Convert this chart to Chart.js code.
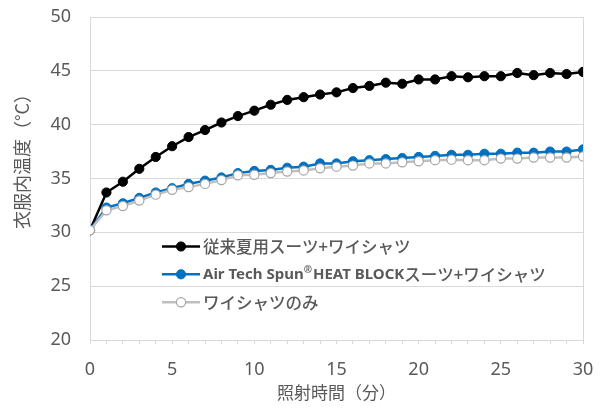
<!DOCTYPE html>
<html>
<head>
<meta charset="utf-8">
<script src="https://cdn.jsdelivr.net/npm/chart.js@4.4.1/dist/chart.umd.min.js"></script>
<style>
  html, body { margin: 0; padding: 0; background: #ffffff; }
  #wrap { width: 605px; height: 409px; }
</style>
</head>
<body>
<div id="wrap"><canvas id="c" width="605" height="409"></canvas></div>
<script>
// Irradiation time in minutes
const minutes = [0,1,2,3,4,5,6,7,8,9,10,11,12,13,14,15,16,17,18,19,20,21,22,23,24,25,26,27,28,29,30];

// Temperature inside clothing (°C)
const conventionalSuit = [30.2,33.7,34.7,35.9,37.0,38.0,38.85,39.5,40.2,40.8,41.3,41.85,42.3,42.55,42.8,43.0,43.4,43.6,43.9,43.8,44.2,44.2,44.5,44.4,44.5,44.5,44.8,44.6,44.8,44.7,44.9];
const airTechSuit      = [30.2,32.3,32.7,33.2,33.7,34.1,34.5,34.8,35.1,35.5,35.7,35.8,36.0,36.1,36.4,36.4,36.6,36.7,36.8,36.9,37.0,37.1,37.2,37.2,37.3,37.3,37.4,37.4,37.5,37.5,37.7];
const shirtOnly        = [30.2,32.05,32.45,32.95,33.5,33.95,34.2,34.5,34.85,35.3,35.35,35.5,35.65,35.75,35.95,36.1,36.2,36.4,36.4,36.5,36.6,36.7,36.75,36.7,36.7,36.85,36.85,36.95,36.95,36.95,37.05];

const seriesLabels = ['従来夏用スーツ+ワイシャツ', 'Air Tech Spun®HEAT BLOCKスーツ+ワイシャツ', 'ワイシャツのみ'];
const xTitle = '照射時間（分）';
const yTitle = '衣服内温度（°C）';

const TEXT = '#595959';
const GRID = '#d9d9d9';
const NUM_FONT = "'Noto Sans', 'Noto Sans CJK JP', sans-serif";
const JP_FONT = "'Noto Sans CJK JP', 'Noto Sans', sans-serif";

const toPoints = (ys) => minutes.map((m, i) => ({ x: m, y: ys[i] }));

// Box around the plot area
const frame = {
  id: 'frame',
  beforeDatasetsDraw(chart) {
    const { ctx, chartArea: a } = chart;
    ctx.save();
    ctx.strokeStyle = GRID;
    ctx.lineWidth = 1;
    ctx.strokeRect(Math.round(a.left) + 0.5, Math.round(a.top) + 0.5, Math.round(a.right - a.left), Math.round(a.bottom - a.top));
    ctx.restore();
  }
};

// Vertical axis title
const yTitlePlugin = {
  id: 'yTitlePlugin',
  afterDraw(chart) {
    const { ctx } = chart;
    ctx.save();
    ctx.translate(22, 157);
    ctx.rotate(-Math.PI / 2);
    ctx.fillStyle = TEXT;
    ctx.font = `18px ${JP_FONT}`;
    ctx.textAlign = 'center';
    ctx.textBaseline = 'middle';
    ctx.fillText(yTitle, 0, 0);
    ctx.restore();
  }
};

// Legend placed inside the plot area
const innerLegend = {
  id: 'innerLegend',
  afterDraw(chart) {
    const { ctx } = chart;
    const rows = [246.5, 274.3, 302.3];
    chart.data.datasets.forEach((ds, i) => {
      const y = rows[i];
      ctx.save();
      ctx.strokeStyle = ds.borderColor;
      ctx.lineWidth = ds.borderWidth;
      ctx.beginPath();
      ctx.moveTo(162, y);
      ctx.lineTo(200, y);
      ctx.stroke();
      ctx.beginPath();
      ctx.arc(181, y, ds.pointRadius, 0, Math.PI * 2);
      ctx.fillStyle = ds.pointBackgroundColor;
      ctx.fill();
      ctx.lineWidth = ds.pointBorderWidth;
      ctx.strokeStyle = ds.pointBorderColor;
      ctx.stroke();

      // Latin runs bold, registered mark raised, Japanese runs medium weight
      ctx.fillStyle = TEXT;
      ctx.textBaseline = 'middle';
      ctx.textAlign = 'left';
      let x = 203;
      const runs = ds.label.match(/®|[A-Za-z\s]+|[^A-Za-z®\s]+/g);
      runs.forEach(run => {
        let dy = 0;
        if (run === '®') {
          ctx.font = `bold 10px ${NUM_FONT}`;
          dy = -4;
        } else if (/[A-Za-z]/.test(run)) {
          ctx.font = `bold 15px ${NUM_FONT}`;
        } else {
          ctx.font = `500 16.5px ${JP_FONT}`;
        }
        ctx.fillText(run, x, y + dy);
        x += ctx.measureText(run).width + (run === '®' ? 1 : 0);
      });
      ctx.restore();
    });
  }
};

new Chart(document.getElementById('c'), {
  type: 'line',
  data: {
    datasets: [
      {
        label: seriesLabels[0],
        data: toPoints(conventionalSuit),
        borderColor: '#000000',
        borderWidth: 2.5,
        pointRadius: 4.6,
        pointBackgroundColor: '#000000',
        pointBorderColor: '#000000',
        pointBorderWidth: 1,
        tension: 0,
        order: 3
      },
      {
        label: seriesLabels[1],
        data: toPoints(airTechSuit),
        borderColor: '#0070C0',
        borderWidth: 2.5,
        pointRadius: 4.6,
        pointBackgroundColor: '#0070C0',
        pointBorderColor: '#0070C0',
        pointBorderWidth: 1,
        tension: 0,
        order: 2
      },
      {
        label: seriesLabels[2],
        data: toPoints(shirtOnly),
        borderColor: '#BFBFBF',
        borderWidth: 2.5,
        pointRadius: 4.6,
        pointBackgroundColor: '#FFFFFF',
        pointBorderColor: '#A6A6A6',
        pointBorderWidth: 1.2,
        tension: 0,
        order: 1
      }
    ]
  },
  options: {
    responsive: false,
    animation: false,
    devicePixelRatio: 1,
    layout: { padding: { top: 17, right: 22, left: 0, bottom: 0 } },
    plugins: {
      legend: { display: false },
      tooltip: { enabled: false }
    },
    scales: {
      x: {
        type: 'linear',
        min: 0,
        max: 30,
        afterFit(scale) {
          scale.height = 69;
          scale.paddingLeft = 0;
          scale.paddingRight = 0;
        },
        border: { display: true, color: GRID, width: 1 },
        grid: { drawOnChartArea: false, drawTicks: true, tickLength: 4, color: GRID },
        ticks: {
          stepSize: 1,
          autoSkip: false,
          maxRotation: 0,
          padding: 15,
          color: TEXT,
          font: { family: NUM_FONT, size: 18 },
          callback: (v) => (v % 5 === 0 ? String(v) : '')
        },
        title: {
          display: true,
          text: xTitle,
          color: TEXT,
          font: { family: JP_FONT, size: 17 },
          padding: { top: 0, bottom: 6 }
        }
      },
      y: {
        min: 20,
        max: 50,
        afterFit(scale) {
          scale.width = 90;
          scale.paddingTop = 0;
          scale.paddingBottom = 0;
        },
        border: { display: true, color: GRID, width: 1 },
        grid: { color: GRID, drawTicks: false },
        ticks: {
          stepSize: 5,
          padding: 19,
          color: TEXT,
          font: { family: NUM_FONT, size: 18 }
        }
      }
    }
  },
  plugins: [frame, yTitlePlugin, innerLegend]
});
</script>
</body>
</html>
